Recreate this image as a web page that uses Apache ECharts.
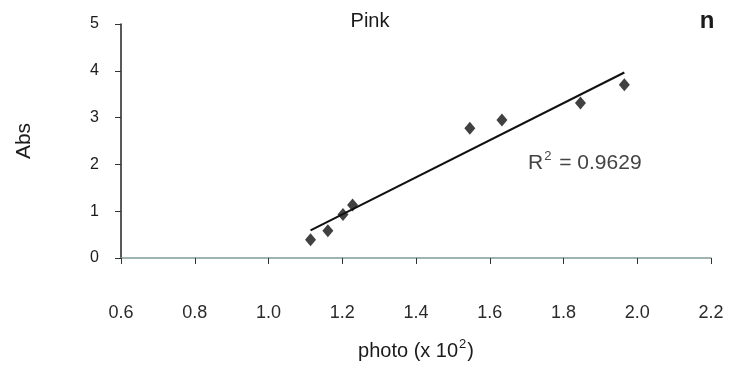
<!DOCTYPE html>
<html><head><meta charset="utf-8">
<script src="https://cdn.jsdelivr.net/npm/echarts@6/dist/echarts.min.js"></script>
<style>html,body{margin:0;padding:0;background:#fff}#c{width:731px;height:372px}</style>
</head><body><div id="c"></div>
<script>
const photoX = [1.114, 1.161, 1.202, 1.228, 1.546, 1.633, 1.846, 1.965];
const absY = [0.39, 0.58, 0.93, 1.13, 2.77, 2.95, 3.31, 3.70];
const xTicks = [0.6, 0.8, 1.0, 1.2, 1.4, 1.6, 1.8, 2.0, 2.2];
const yTicks = [0, 1, 2, 3, 4, 5];
const titleText = 'Pink';
const panelLabel = 'n';
const r2Text = '0.9629';

// least-squares trend line from the data
const n = photoX.length;
const mx = photoX.reduce((a,b)=>a+b,0)/n, my = absY.reduce((a,b)=>a+b,0)/n;
let sxy=0, sxx=0;
for (let i=0;i<n;i++){ sxy+=(photoX[i]-mx)*(absY[i]-my); sxx+=(photoX[i]-mx)**2; }
const slope = sxy/sxx, icpt = my - slope*mx;
const xmin = Math.min(...photoX), xmax = Math.max(...photoX);
const trend = [[xmin, icpt+slope*xmin],[xmax, icpt+slope*xmax]];

const font = 'Liberation Sans, Arial, sans-serif';
const chart = echarts.init(document.getElementById('c'));
chart.setOption({
  animation:false,
  backgroundColor:'#fff',
  grid:{left:121, right:20, top:24, bottom:114},
  title:[
    {text:titleText, left:365, top:6, textAlign:'center', textStyle:{fontFamily:font, fontSize:20, fontWeight:'normal', color:'#1a1a1a'}},
    {text:panelLabel, left:702, top:4, textAlign:'center', textStyle:{fontFamily:font, fontSize:24, fontWeight:'bold', color:'#1a1a1a'}}
  ],
  xAxis:{type:'value', min:xTicks[0], max:xTicks[xTicks.length-1], interval:0.2,
    name:'{a|photo (x 10}{s|2}{a|)}', nameLocation:'middle', nameGap:80,
    nameTextStyle:{rich:{a:{fontFamily:font, fontSize:20, color:'#1a1a1a'}, s:{fontFamily:font, fontSize:13, color:'#1a1a1a', verticalAlign:'top', padding:[0,1,14,1]}}},
    axisLine:{onZero:false, lineStyle:{color:'#7f9c9a', width:1.5}},
    axisTick:{show:true, inside:false, length:6, lineStyle:{color:'#333'}},
    axisLabel:{margin:46, fontFamily:font, fontSize:18, color:'#2a2a2a', formatter:v=>v.toFixed(1)},
    splitLine:{show:false}},
  yAxis:{type:'value', min:yTicks[0], max:yTicks[yTicks.length-1], interval:1,
    name:'Abs', nameLocation:'middle', nameGap:86, nameRotate:90,
    nameTextStyle:{fontFamily:font, fontSize:21, color:'#1a1a1a'},
    axisLine:{lineStyle:{color:'#222', width:1.5}},
    axisTick:{show:true, length:6, lineStyle:{color:'#333'}},
    axisLabel:{margin:22, fontFamily:font, fontSize:16, color:'#1a1a1a'},
    splitLine:{show:false}},
  series:[
    {type:'line', data:trend, symbol:'none', lineStyle:{color:'#111', width:2}, z:2},
    {type:'scatter', data:photoX.map((x,i)=>[x,absY[i]]), symbol:'diamond', symbolSize:[11,13], itemStyle:{color:'#111'}, z:3}
  ],
  graphic:[
    {type:'text', left:528, top:150, style:{rich:{a:{fontFamily:font, fontSize:21, fill:'#444'}, s:{fontFamily:font, fontSize:13, fill:'#444', verticalAlign:'top', padding:[0,2,14,1]}}, text:'{a|R}{s|2}{a| = '+r2Text+'}'}}
  ]
});
</script></body></html>
